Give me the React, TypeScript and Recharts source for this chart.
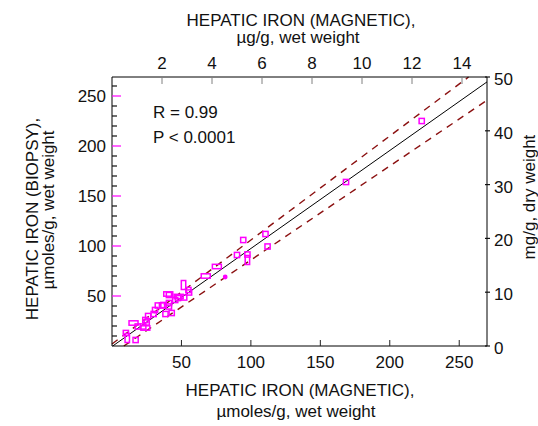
import React from 'react';
import { ScatterChart, Scatter, XAxis, YAxis, ReferenceLine } from 'recharts';

// ---- data ----
const squarePts = [
  { x: 10, y: 13 }, { x: 17, y: 6 }, { x: 18.5, y: 19.5 }, { x: 22.5, y: 19.5 },
  { x: 24, y: 26 }, { x: 25, y: 23.5 }, { x: 26, y: 30 }, { x: 30, y: 32 },
  { x: 31, y: 36 }, { x: 33, y: 40.5 }, { x: 36, y: 40.5 }, { x: 38.5, y: 32 },
  { x: 43, y: 33 }, { x: 41, y: 43 }, { x: 41, y: 39.5 }, { x: 37, y: 41 },
  { x: 41, y: 51 }, { x: 45.5, y: 46 }, { x: 47.5, y: 48 }, { x: 52, y: 48.5 },
  { x: 55, y: 56 }, { x: 55.5, y: 53.5 }, { x: 90, y: 91 }, { x: 94.5, y: 106 },
  { x: 97.5, y: 91.5 }, { x: 110.5, y: 112 }, { x: 112, y: 99.5 },
  { x: 168.5, y: 164 }, { x: 223, y: 225 },
];
const widePts = [
  { x: 15.5, y: 23 }, { x: 24, y: 18 }, { x: 40.5, y: 52 }, { x: 48, y: 49.5 },
  { x: 67.5, y: 70 }, { x: 75.5, y: 79.5 },
];
const tallPts = [
  { x: 11, y: 8 }, { x: 51.5, y: 61 }, { x: 97.5, y: 86 },
];
const filledPts = [{ x: 81.5, y: 69 }];

const FIT = { slope: 0.98, intercept: -0.5 };
const UPPER = { slope: 1.04, intercept: 2 };
const LOWER = { slope: 0.94, intercept: -8 };

const X_DOMAIN = [0, 270];
const Y_DOMAIN = [0, 269];
const TOP_DOMAIN = [0, 15];
const RIGHT_DOMAIN = [0, 50];

const BOTTOM_TICKS = [50, 100, 150, 200, 250];
const TOP_TICKS = [2, 4, 6, 8, 10, 12, 14];
const LEFT_TICKS = [10, 20, 30, 40, 50, 60, 70, 80, 90, 100, 110, 120, 130, 140, 150, 160, 170, 180, 190, 200, 210, 220, 230, 240, 250, 260];
const RIGHT_TICKS = [0, 10, 20, 30, 40, 50];

const STATS = ['R = 0.99', 'P < 0.0001'];

// ---- styles ----
const FONT = "'Liberation Sans', Arial, Helvetica, sans-serif";
const FS = 17;
const TXT = '#111';
const MAGENTA = '#ff00ff';
const DASH = '#8b1010';

// clip a line y = slope*x + intercept to the plotting domain
const seg = (l: { slope: number; intercept: number }) => {
  let x0 = X_DOMAIN[0];
  let x1 = X_DOMAIN[1];
  const xAtY0 = (Y_DOMAIN[0] - l.intercept) / l.slope;
  const xAtY1 = (Y_DOMAIN[1] - l.intercept) / l.slope;
  x0 = Math.max(x0, Math.min(xAtY0, xAtY1));
  x1 = Math.min(x1, Math.max(xAtY0, xAtY1));
  return [
    { x: x0, y: l.slope * x0 + l.intercept },
    { x: x1, y: l.slope * x1 + l.intercept },
  ];
};

const BottomTick = (p: any) => (
  <g>
    <line x1={p.x} x2={p.x} y1={p.y} y2={p.y - 6} stroke="#222" strokeWidth={1} />
    <text x={p.x} y={p.y + 22} textAnchor="middle" fontFamily={FONT} fontSize={FS} fill={TXT}>
      {p.payload.value}
    </text>
  </g>
);

const TopTick = (p: any) => (
  <g>
    <line x1={p.x} x2={p.x} y1={p.y} y2={p.y + 7} stroke="#808080" strokeWidth={1} />
    <text x={p.x} y={p.y - 8.5} textAnchor="middle" fontFamily={FONT} fontSize={FS} fill={TXT}>
      {p.payload.value}
    </text>
  </g>
);

const LeftTick = (p: any) => {
  const v = p.payload.value;
  const major = v % 50 === 0;
  return (
    <g>
      {major ? (
        <line x1={p.x} x2={p.x + 9} y1={p.y} y2={p.y} stroke={MAGENTA} strokeWidth={1.2} />
      ) : (
        <line x1={p.x} x2={p.x + 5} y1={p.y} y2={p.y} stroke="#111" strokeWidth={1.2} />
      )}
      {major && (
        <text x={p.x - 6} y={p.y + 5.5} textAnchor="end" fontFamily={FONT} fontSize={FS} fill={TXT}>
          {v}
        </text>
      )}
    </g>
  );
};

const RightTick = (p: any) => (
  <g>
    <line x1={p.x - 2} x2={p.x + 3} y1={p.y} y2={p.y} stroke="#111" strokeWidth={1.2} />
    <text x={p.x + 7} y={p.y + 8} textAnchor="start" fontFamily={FONT} fontSize={FS} fill={TXT}>
      {p.payload.value}
    </text>
  </g>
);

const SquareShape = (p: any) => (
  <rect x={p.cx - 2.6} y={p.cy - 2.6} width={5.2} height={5.2} fill="none" stroke={MAGENTA} strokeWidth={1.5} />
);
const WideShape = (p: any) => (
  <rect x={p.cx - 4.5} y={p.cy - 2.2} width={9} height={4.4} fill="none" stroke={MAGENTA} strokeWidth={1.5} />
);
const TallShape = (p: any) => (
  <rect x={p.cx - 2.2} y={p.cy - 4.5} width={4.4} height={9} fill="none" stroke={MAGENTA} strokeWidth={1.5} />
);
const DotShape = (p: any) => <circle cx={p.cx} cy={p.cy} r={2.4} fill={MAGENTA} />;
const NoShape = () => <g />;

export default function App() {
  const axisLine = { stroke: '#000', strokeWidth: 1 };
  return (
    <div style={{ position: 'absolute', left: 0, top: 0, width: 538, height: 426, background: '#fff' }}>
      <ScatterChart width={538} height={426} margin={{ top: 47, right: 21, bottom: 50, left: 72 }}>
        <XAxis xAxisId="b" type="number" dataKey="x" domain={X_DOMAIN} ticks={BOTTOM_TICKS} orientation="bottom"
          height={30} tickSize={0} tickMargin={0} tickLine={false} axisLine={axisLine} tick={BottomTick}
          interval={0} allowDataOverflow />
        <XAxis xAxisId="t" type="number" dataKey="x" domain={TOP_DOMAIN} ticks={TOP_TICKS} orientation="top"
          height={30} tickSize={0} tickMargin={0} tickLine={false} axisLine={axisLine} tick={TopTick}
          interval={0} allowDataOverflow />
        <YAxis yAxisId="l" type="number" dataKey="y" domain={Y_DOMAIN} ticks={LEFT_TICKS} orientation="left"
          width={40} tickSize={0} tickMargin={0} tickLine={false} axisLine={axisLine} tick={LeftTick}
          interval={0} allowDataOverflow />
        <YAxis yAxisId="r" type="number" dataKey="y" domain={RIGHT_DOMAIN} ticks={RIGHT_TICKS} orientation="right"
          width={30} tickSize={0} tickMargin={0} tickLine={false} axisLine={axisLine} tick={RightTick}
          interval={0} allowDataOverflow />
        <ReferenceLine xAxisId="b" yAxisId="l" segment={seg(FIT)} stroke="#000" strokeWidth={1} ifOverflow="visible" />
        <ReferenceLine xAxisId="b" yAxisId="l" segment={seg(UPPER)} stroke={DASH} strokeWidth={1.4} strokeDasharray="7 6" ifOverflow="visible" />
        <ReferenceLine xAxisId="b" yAxisId="l" segment={seg(LOWER)} stroke={DASH} strokeWidth={1.4} strokeDasharray="7 6" ifOverflow="visible" />
        <Scatter xAxisId="t" yAxisId="r" data={[]} shape={NoShape} isAnimationActive={false} />
        <Scatter xAxisId="b" yAxisId="l" data={squarePts} shape={SquareShape} isAnimationActive={false} />
        <Scatter xAxisId="b" yAxisId="l" data={widePts} shape={WideShape} isAnimationActive={false} />
        <Scatter xAxisId="b" yAxisId="l" data={tallPts} shape={TallShape} isAnimationActive={false} />
        <Scatter xAxisId="b" yAxisId="l" data={filledPts} shape={DotShape} isAnimationActive={false} />
      </ScatterChart>
      <svg width={538} height={426} style={{ position: 'absolute', left: 0, top: 0, pointerEvents: 'none' }}
        fontFamily={FONT} fontSize={FS} fill={TXT}>
        <text x={301} y={25.5} textAnchor="middle">HEPATIC IRON (MAGNETIC),</text>
        <text x={298} y={43} textAnchor="middle">µg/g, wet weight</text>
        <text x={300} y={396} textAnchor="middle">HEPATIC IRON (MAGNETIC),</text>
        <text x={296} y={417} textAnchor="middle">µmoles/g, wet weight</text>
        <text x={37.5} y={219} textAnchor="middle" transform="rotate(-90 37.5 219)">HEPATIC IRON (BIOPSY),</text>
        <text x={54} y={210} textAnchor="middle" transform="rotate(-90 54 210)">µmoles/g, wet weight</text>
        <text x={535} y={197} textAnchor="middle" transform="rotate(-90 535 197)">mg/g, dry weight</text>
        <text x={153} y={118.3}>{STATS[0]}</text>
        <text x={153} y={143.3}>{STATS[1]}</text>
      </svg>
    </div>
  );
}
